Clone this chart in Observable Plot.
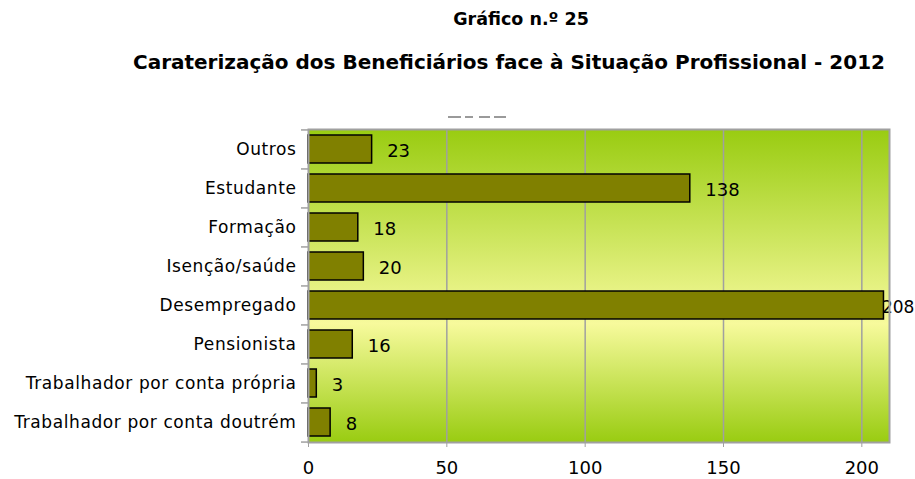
<!DOCTYPE html>
<html><head><meta charset="utf-8">
<script src="https://cdn.jsdelivr.net/npm/d3@7"></script>
<script src="https://cdn.jsdelivr.net/npm/@observablehq/plot@0.6"></script>
<style>
body{margin:0;background:#fff;}
#wrap{position:relative;width:915px;height:479px;font-family:"DejaVu Sans",sans-serif;overflow:hidden;}
.t{position:absolute;text-align:center;font-weight:bold;color:#000;white-space:nowrap;}
#chart{position:absolute;top:100px;left:0;}
.dash{position:absolute;top:116px;height:2px;background:#9a9a9a;}
</style></head><body>
<div id="wrap">
<div class="t" id="t1" style="top:9px;left:321px;width:400px;font-size:17.5px;">Gráfico n.º 25</div>
<div class="t" id="t2" style="top:50px;left:9px;width:1000px;font-size:20px;">Caraterização dos Beneficiários face à Situação Profissional - 2012</div>
<div class="dash" style="left:448px;width:13px;"></div>
<div class="dash" style="left:465px;width:8px;"></div>
<div class="dash" style="left:479px;width:11px;"></div>
<div class="dash" style="left:494px;width:12px;"></div>
<div id="chart"></div>
</div>
<script>
const categories = ["Outros","Estudante","Formação","Isenção/saúde","Desempregado","Pensionista","Trabalhador por conta própria","Trabalhador por conta doutrém"];
const values = [23,138,18,20,208,16,3,8];
const xTicks = [0,50,100,150,200];

const data = categories.map((c,i)=>({category:c, value:values[i]}));
const W=915,H=379,mL=308,mR=26,mT=29,mB=37;
const step=(H-mT-mB)/categories.length;

const plot = Plot.plot({
  width:W,height:H,marginLeft:mL,marginRight:mR,marginTop:mT,marginBottom:mB,
  style:{fontFamily:"DejaVu Sans, sans-serif",fontSize:"16px",color:"#000",background:"transparent",overflow:"visible"},
  x:{domain:[0,210]},
  y:{domain:categories,paddingInner:0.29,paddingOuter:0.145},
  marks:[
    Plot.frame({fill:"url(#bgGrad)"}),
    Plot.gridX(xTicks.filter(t=>t>0),{stroke:"#a0a0a0",strokeOpacity:1,strokeWidth:1.5}),
    Plot.barX(data,{x:"value",y:"category",fill:"#808000",stroke:"#000",strokeWidth:1.5}),
    Plot.text(data.filter(d=>d.value<200),{x:"value",y:"category",text:d=>String(d.value),textAnchor:"start",dx:15,dy:2,fontSize:18}),
    Plot.text(data.filter(d=>d.value>=200),{x:"value",y:"category",text:d=>String(d.value),textAnchor:"start",dx:-2,dy:2,fontSize:17}),
    Plot.frame({stroke:"#a0a0a0",strokeWidth:2}),
    Plot.axisX(xTicks,{tickSize:5,stroke:"#a0a0a0",tickPadding:14,fontSize:18,label:null,tickFormat:d=>String(d)}),
    Plot.axisY({tickSize:0,tickPadding:12,label:null,fontSize:17}),
    Plot.ruleY(categories,{x1:0,x2:0,insetLeft:-7,dy:-step/2,stroke:"#a0a0a0",strokeWidth:1.5}),
    Plot.ruleY(categories.slice(-1),{x1:0,x2:0,insetLeft:-7,dy:step/2,stroke:"#a0a0a0",strokeWidth:1.5})
  ]
});
const defs = d3.select(plot).insert("defs",":first-child");
const g = defs.append("linearGradient").attr("id","bgGrad").attr("x1",0).attr("y1",0).attr("x2",0).attr("y2",1);
g.append("stop").attr("offset","0%").attr("stop-color","#99cc11");
g.append("stop").attr("offset","62%").attr("stop-color","#f7fa9c");
g.append("stop").attr("offset","100%").attr("stop-color","#99cc11");
d3.select(plot).selectAll("g[aria-label='y-axis tick label'] text").style("letter-spacing","0.6px");
document.getElementById("chart").appendChild(plot);
</script>
</body></html>
